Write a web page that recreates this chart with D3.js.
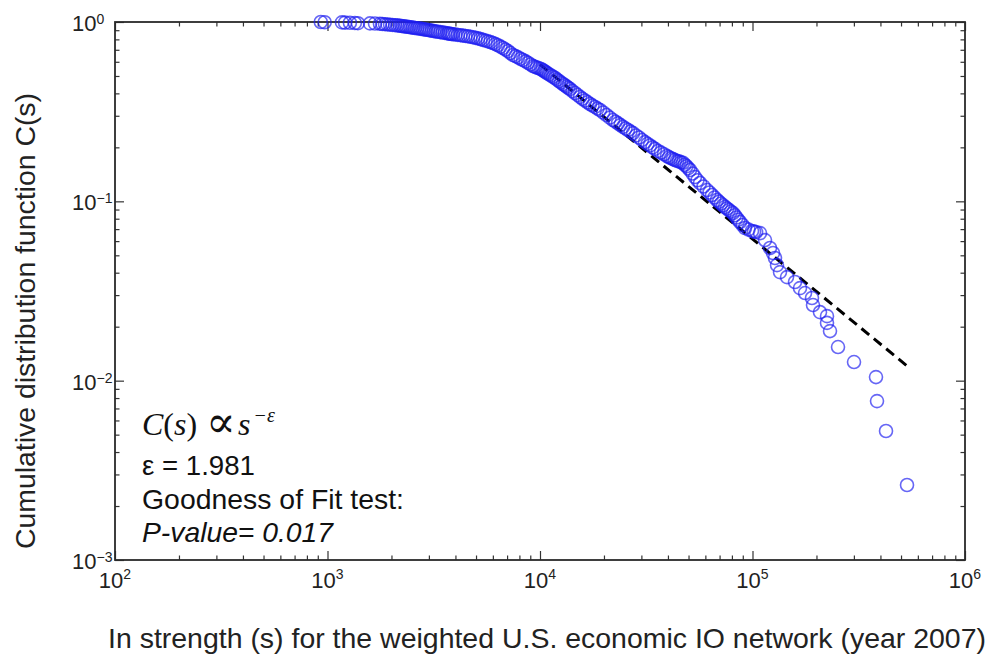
<!DOCTYPE html>
<html>
<head>
<meta charset="utf-8">
<script src="https://cdn.jsdelivr.net/npm/d3@7"></script>
<style>
  body { margin: 0; background: #fff; }
  svg { display: block; }
</style>
</head>
<body>
<div id="chart"></div>
<script>
// In-strength s and cumulative distribution C(s)
const STRENGTH = [
  930, 970, 1170, 1210, 1275, 1345, 1390, 1585, 1673, 1765,
  1814, 1865, 1917, 1970, 2024, 2080, 2134, 2190, 2235, 2280,
  2325, 2370, 2420, 2470, 2525, 2580, 2640, 2700, 2755, 2810,
  2865, 2920, 2980, 3040, 3105, 3170, 3240, 3310, 3395, 3480,
  3565, 3650, 3710, 3770, 3835, 3900, 4005, 4110, 4225, 4340,
  4460, 4580, 4710, 4840, 4975, 5110, 5250, 5390, 5540, 5690,
  5850, 6010, 6175, 6340, 6520, 6700, 6880, 7070, 7260, 7460,
  7670, 7880, 8100, 8320, 8550, 8780, 9020, 9270, 9470, 9680,
  9890, 10110, 10280, 10450, 10620, 10790, 11030, 11270, 11520, 11770,
  12030, 12290, 12560, 12830, 13080, 13330, 13580, 13840, 14220, 14610,
  15010, 15430, 15850, 16290, 16730, 17190, 17660, 18150, 18650, 19160,
  19840, 20550, 21290, 22060, 22660, 23280, 23920, 24580, 25260, 25950,
  26660, 27390, 28300, 29230, 30190, 31190, 32050, 32930, 33840, 34770,
  35920, 37100, 38330, 39590, 40460, 41350, 42260, 43180, 44130, 45100,
  46090, 47100, 47990, 48900, 49840, 50800, 52200, 53630, 55110, 56630,
  58820, 61090, 62770, 64500, 66260, 68070, 69570, 71100, 72660, 74250,
  75860, 77500, 79210, 80950, 82510, 84100, 85710, 87350, 89740, 92200,
  95760, 99460, 101700, 104000, 108500, 114500, 120900, 124900, 127600, 130400,
  134700, 145400, 158500, 167300, 176700, 190500, 192600, 207800, 224200, 224200,
  231600, 252600, 300400, 381200, 385400, 424900, 533500
];
const CDF = [
  1.000, 0.997, 0.995, 0.992, 0.990, 0.987, 0.985, 0.982, 0.980, 0.977,
  0.975, 0.972, 0.969, 0.966, 0.963, 0.960, 0.957, 0.953, 0.950, 0.947,
  0.944, 0.940, 0.937, 0.933, 0.930, 0.926, 0.923, 0.920, 0.916, 0.912,
  0.909, 0.905, 0.902, 0.898, 0.894, 0.890, 0.886, 0.882, 0.878, 0.874,
  0.870, 0.866, 0.863, 0.860, 0.857, 0.854, 0.851, 0.847, 0.844, 0.840,
  0.836, 0.832, 0.827, 0.822, 0.816, 0.810, 0.803, 0.795, 0.788, 0.780,
  0.772, 0.764, 0.753, 0.742, 0.729, 0.716, 0.702, 0.688, 0.671, 0.655,
  0.645, 0.635, 0.624, 0.614, 0.603, 0.592, 0.580, 0.568, 0.562, 0.557,
  0.552, 0.547, 0.540, 0.533, 0.526, 0.519, 0.511, 0.503, 0.495, 0.487,
  0.477, 0.468, 0.459, 0.451, 0.444, 0.437, 0.430, 0.423, 0.412, 0.402,
  0.392, 0.382, 0.373, 0.365, 0.357, 0.349, 0.342, 0.336, 0.329, 0.323,
  0.313, 0.303, 0.293, 0.284, 0.278, 0.272, 0.266, 0.260, 0.255, 0.250,
  0.245, 0.240, 0.233, 0.227, 0.220, 0.214, 0.209, 0.205, 0.200, 0.196,
  0.191, 0.187, 0.183, 0.179, 0.176, 0.174, 0.172, 0.170, 0.168, 0.167,
  0.165, 0.164, 0.160, 0.157, 0.153, 0.1495, 0.143, 0.1366, 0.131, 0.1265,
  0.121, 0.1156, 0.112, 0.1085, 0.105, 0.1017, 0.0994, 0.0972, 0.0951, 0.0930,
  0.0912, 0.0894, 0.0877, 0.0860, 0.0836, 0.0812, 0.0789, 0.0767, 0.0738, 0.0710,
  0.0696, 0.0683, 0.0678, 0.0674, 0.0665, 0.0608, 0.0549, 0.0515, 0.0483, 0.0441,
  0.0403, 0.0378, 0.0355, 0.0328, 0.0308, 0.0289, 0.0264, 0.0241, 0.0229, 0.0210,
  0.0189, 0.0154, 0.0127, 0.01047, 0.00769, 0.00524, 0.00262
];

// Power-law fit C(s) ~ s^-(eps-1), end points of the dashed line
const FIT_S = [10000, 533000];
const FIT_C = [0.58, 0.0121];

const X_TICKS = [1e2, 1e3, 1e4, 1e5, 1e6];
const X_EXP = ['2', '3', '4', '5', '6'];
const Y_TICKS = [1, 1e-1, 1e-2, 1e-3];
const Y_EXP = ['0', '\u22121', '\u22122', '\u22123'];

const EPS_TEXT = '\u03b5 = 1.981';
const GOF_TEXT = 'Goodness of Fit test:';
const PVAL_TEXT = 'P-value= 0.017';
const X_LABEL = 'In strength (s) for the weighted U.S. economic IO network (year 2007)';
const Y_LABEL = 'Cumulative distribution function C(s)';

(function () {
  const W = 989, H = 658;
  const plot = { left: 115, right: 965, top: 22, bottom: 560 };
  const SANS = "'Liberation Sans', Arial, Helvetica, sans-serif";
  const SERIF = "'Liberation Serif', 'Times New Roman', 'DejaVu Serif', serif";

  const svg = d3.select('#chart').append('svg').attr('width', W).attr('height', H);

  const x = d3.scaleLog().domain([1e2, 1e6]).range([plot.left, plot.right]);
  const y = d3.scaleLog().domain([1e-3, 1]).range([plot.bottom, plot.top]);

  const minorX = x.ticks().filter(v => !X_TICKS.includes(v));
  const minorY = y.ticks().filter(v => !Y_TICKS.some(t => Math.abs(t - v) < t * 1e-6));

  // --- inward ticks on all four sides (MATLAB box) ---
  function styleAxis(sel) {
    sel.select('.domain').remove();
    sel.selectAll('.tick line').attr('stroke', '#333').attr('stroke-width', 1.2);
    sel.selectAll('.tick text').remove();
  }
  [[minorX, 4.5], [X_TICKS, 9]].forEach(([vals, len]) => {
    svg.append('g').attr('transform', `translate(0,${plot.bottom})`)
      .call(d3.axisBottom(x).tickValues(vals).tickSize(-len)).call(styleAxis);
    svg.append('g').attr('transform', `translate(0,${plot.top})`)
      .call(d3.axisTop(x).tickValues(vals).tickSize(-len)).call(styleAxis);
  });
  [[minorY, 4.5], [Y_TICKS, 9]].forEach(([vals, len]) => {
    svg.append('g').attr('transform', `translate(${plot.left},0)`)
      .call(d3.axisLeft(y).tickValues(vals).tickSize(-len)).call(styleAxis);
    svg.append('g').attr('transform', `translate(${plot.right},0)`)
      .call(d3.axisRight(y).tickValues(vals).tickSize(-len)).call(styleAxis);
  });

  svg.append('rect')
    .attr('x', plot.left).attr('y', plot.top)
    .attr('width', plot.right - plot.left).attr('height', plot.bottom - plot.top)
    .attr('fill', 'none').attr('stroke', '#2a2a2a').attr('stroke-width', 1.8);

  // --- tick labels 10^k ---
  X_TICKS.forEach((v, i) => {
    const t = svg.append('text')
      .attr('x', x(v)).attr('y', 588)
      .attr('text-anchor', 'middle')
      .style('font-family', SANS).style('font-size', '22px').style('fill', '#222');
    t.append('tspan').text('10');
    t.append('tspan').attr('dy', -9).style('font-size', '14px').text(X_EXP[i]);
  });
  Y_TICKS.forEach((v, i) => {
    const t = svg.append('text')
      .attr('x', 72).attr('y', y(v) + 9)
      .style('font-family', SANS).style('font-size', '22px').style('fill', '#222');
    t.append('tspan').text('10');
    t.append('tspan').attr('dy', -7).style('font-size', '14px').text(Y_EXP[i]);
  });

  // --- axis labels ---
  svg.append('text')
    .attr('x', 547).attr('y', 648)
    .attr('text-anchor', 'middle')
    .attr('textLength', 878).attr('lengthAdjust', 'spacingAndGlyphs')
    .style('font-family', SANS).style('font-size', '28px').style('fill', '#222')
    .text(X_LABEL);
  svg.append('text')
    .attr('transform', 'translate(35,321) rotate(-90)')
    .attr('text-anchor', 'middle')
    .attr('textLength', 456).attr('lengthAdjust', 'spacingAndGlyphs')
    .style('font-family', SANS).style('font-size', '28px').style('fill', '#222')
    .text(Y_LABEL);

  // --- fitted power law (dashed) ---
  const fit = FIT_S.map((s, i) => ({ s, c: FIT_C[i] }));
  svg.append('path').datum(fit)
    .attr('d', d3.line().x(d => x(d.s)).y(d => y(d.c)))
    .attr('fill', 'none').attr('stroke', '#000')
    .attr('stroke-width', 3).attr('stroke-dasharray', '10 6');

  // --- data circles ---
  const pts = STRENGTH.map((s, i) => ({ s, c: CDF[i] }));
  svg.append('g').selectAll('circle').data(pts).enter().append('circle')
    .attr('cx', d => x(d.s)).attr('cy', d => y(d.c)).attr('r', 6.5)
    .attr('fill', 'none').attr('stroke', '#1e1ef0')
    .attr('stroke-opacity', 0.68).attr('stroke-width', 1.6);

  // --- annotation ---
  const f = svg.append('text').attr('x', 142).attr('y', 435)
    .style('font-family', SERIF).style('font-size', '32px').style('fill', '#111');
  f.append('tspan').style('font-style', 'italic').text('C');
  f.append('tspan').text('(');
  f.append('tspan').style('font-style', 'italic').text('s');
  f.append('tspan').text(')');
  f.append('tspan').attr('x', 206).attr('dy', 2)
    .style('font-size', '44px')
    .text('\u221d');
  f.append('tspan').attr('x', 238).attr('dy', -2).style('font-style', 'italic').text('s');
  f.append('tspan').attr('dx', 3).attr('dy', -13).style('font-size', '20px')
    .style('font-style', 'italic').text('\u2212\u03b5');

  const lines = [
    { text: EPS_TEXT, y: 475, len: 113, italic: false },
    { text: GOF_TEXT, y: 509, len: 262, italic: false },
    { text: PVAL_TEXT, y: 542, len: 191, italic: true }
  ];
  lines.forEach(l => {
    svg.append('text').attr('x', 142).attr('y', l.y)
      .attr('textLength', l.len).attr('lengthAdjust', 'spacingAndGlyphs')
      .style('font-family', SANS).style('font-size', '28px').style('fill', '#111')
      .style('font-style', l.italic ? 'italic' : 'normal')
      .text(l.text);
  });
})();
</script>
</body>
</html>
